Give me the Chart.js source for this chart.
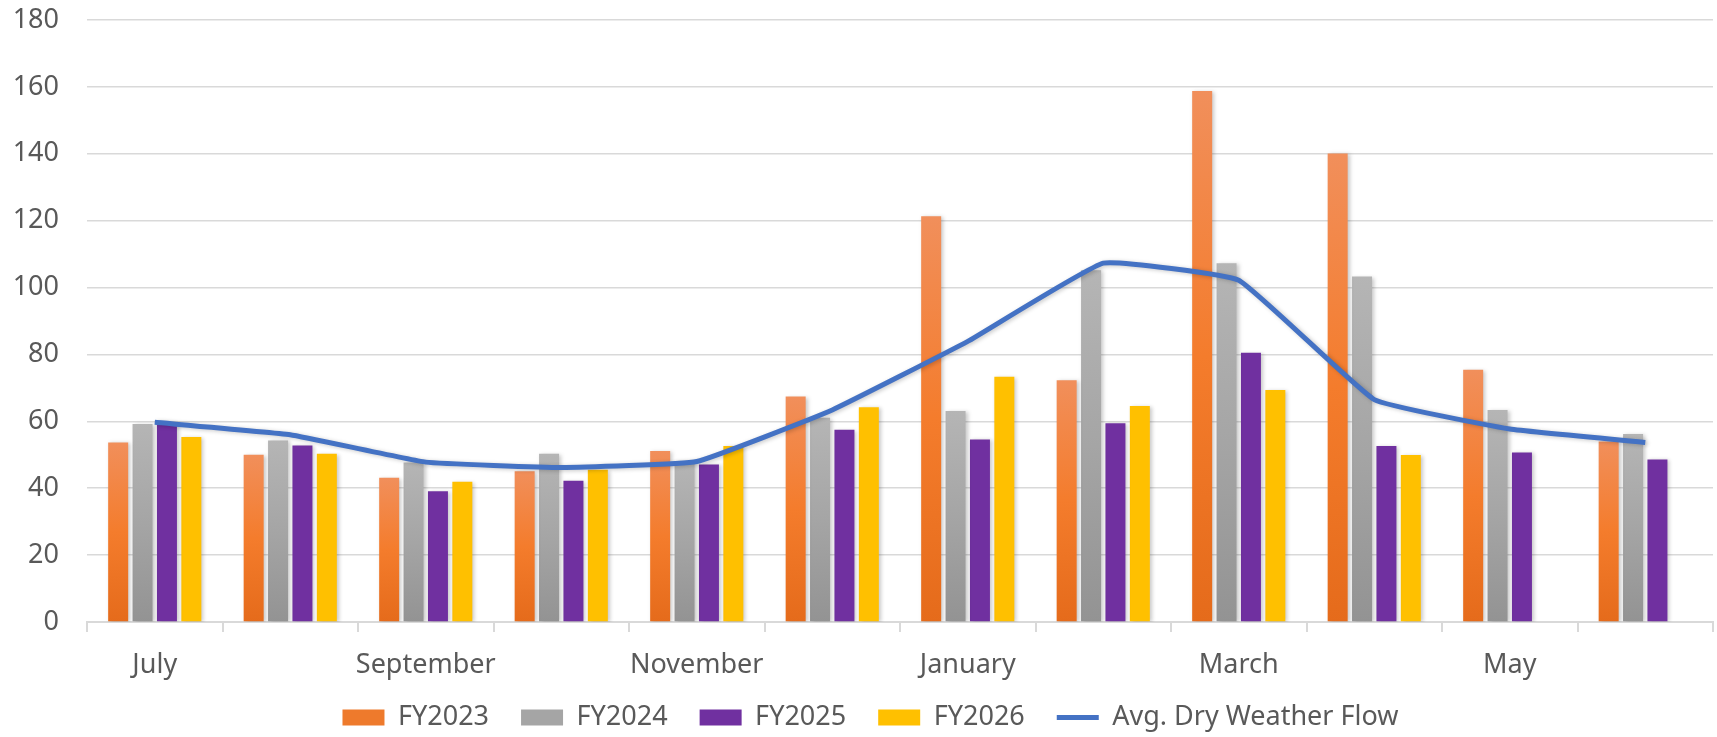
<!DOCTYPE html>
<html>
<head>
<meta charset="utf-8">
<title>Flow by month</title>
<script src="https://cdn.jsdelivr.net/npm/chart.js@4.4.1/dist/chart.umd.min.js"></script>
<style>
  html, body { margin: 0; padding: 0; background: #ffffff; }
  #wrap { width: 1717px; height: 737px; }
</style>
</head>
<body>
<div id="wrap"><canvas id="flowChart" width="1717" height="737"></canvas></div>
<script>
const months = ["July", "August", "September", "October", "November", "December",
                "January", "February", "March", "April", "May", "June"];
const fy2023 = [53.7, 50.0, 43.1, 45.1, 51.1, 67.4, 121.3, 72.3, 158.8, 140.1, 75.4, 54.0];
const fy2024 = [59.2, 54.3, 47.7, 50.3, 48.0, 61.1, 63.1, 105.2, 107.3, 103.3, 63.4, 56.2];
const fy2025 = [59.8, 52.8, 39.1, 42.2, 47.1, 57.5, 54.6, 59.4, 80.5, 52.6, 50.7, 48.6];
const fy2026 = [55.3, 50.3, 41.9, 45.5, 52.6, 64.2, 73.3, 64.6, 69.4, 49.9, null, null];
const avgDryWeather = [59.7, 56.0, 47.8, 46.2, 48.0, 63.4, 83.9, 107.3, 102.2, 66.5, 57.7, 53.7];
const yTicks = [0, 20, 40, 60, 80, 100, 120, 140, 160, 180];

const font = "'Noto Sans', 'Open Sans', sans-serif";
const textColor = "#595959";
const gridColor = "#d9d9d9";

// vertical gradient per bar, lighter at the top like the Excel fill
function barFill(stops, solid) {
  return function (c) {
    if (c.type !== "data" || c.raw == null) return solid;
    const chart = c.chart;
    if (!chart.chartArea) return solid;
    const y = chart.scales.y;
    const top = y.getPixelForValue(c.raw);
    const bottom = y.getPixelForValue(0);
    if (!isFinite(top) || !isFinite(bottom) || bottom - top < 1) return solid;
    const g = chart.ctx.createLinearGradient(0, top, 0, bottom);
    stops.forEach(s => g.addColorStop(s[0], s[1]));
    return g;
  };
}

const orangeFill = barFill([[0, "#f18f5b"], [0.5, "#f47c2c"], [1, "#e56b1b"]], "#ED7D31");
const grayFill = barFill([[0, "#b5b5b5"], [0.5, "#a5a5a5"], [1, "#939393"]], "#A5A5A5");

const legendColors = ["#EE7A2C", "#A5A5A5", "#7030A0", "#FFC000", "#4472C4"];

const shadowPlugin = {
  id: "barShadow",
  beforeDatasetDraw(chart) {
    const c = chart.ctx;
    c.save();
    c.shadowColor = "rgba(0,0,0,0.22)";
    c.shadowBlur = 4;
    c.shadowOffsetX = 2;
    c.shadowOffsetY = 1;
  },
  afterDatasetDraw(chart) {
    chart.ctx.restore();
  }
};

// legend keeps wide gaps between items but should not eat vertical room
const legendFit = {
  id: "legendFit",
  beforeInit(chart) {
    const lg = chart.legend;
    if (!lg) return;
    const fit = lg.fit;
    lg.fit = function () {
      fit.call(this);
      this.height = 45;
    };
    lg.draw = function () {
      if (!this.options.display) return;
      const c = this.ctx;
      c.save();
      c.translate(14, -20);
      this._draw();
      c.restore();
    };
  }
};

const cnv = document.getElementById("flowChart");
const ctx = cnv.getContext("2d");

const flowChart = new Chart(ctx, {
  type: "bar",
  data: {
    labels: months,
    datasets: [
      { label: "FY2023", data: fy2023, backgroundColor: orangeFill, order: 1, pointStyle: "rect" },
      { label: "FY2024", data: fy2024, backgroundColor: grayFill, order: 1, pointStyle: "rect" },
      { label: "FY2025", data: fy2025, backgroundColor: "#7030A0", order: 1, pointStyle: "rect" },
      { label: "FY2026", data: fy2026, backgroundColor: "#FFC000", order: 1, pointStyle: "rect" },
      {
        type: "line",
        label: "Avg. Dry Weather Flow",
        data: avgDryWeather,
        borderColor: "#4472C4",
        backgroundColor: "#4472C4",
        borderWidth: 5,
        pointRadius: 0,
        tension: 0.1,
        order: 0,
        pointStyle: "line"
      }
    ]
  },
  options: {
    responsive: false,
    animation: false,
    devicePixelRatio: 1,
    categoryPercentage: 0.72,
    barPercentage: 0.82,
    layout: { padding: { top: 0, right: 4, left: 0, bottom: 0 } },
    scales: {
      x: {
        grid: { offset: true, drawOnChartArea: false, color: gridColor, lineWidth: 2, tickLength: 10 },
        border: { display: true, color: gridColor, width: 2 },
        ticks: {
          autoSkip: false,
          maxRotation: 0,
          padding: 17,
          color: textColor,
          font: { family: font, size: 27 },
          callback: (v, i) => (i % 2 === 0 ? months[i] : "")
        },
        afterFit: (s) => { s.height = 70; }
      },
      y: {
        min: 0,
        max: 180,
        afterBuildTicks: (s) => { s.ticks = yTicks.map(v => ({ value: v })); },
        grid: { color: gridColor, lineWidth: 1.5, drawTicks: false },
        border: { display: false },
        ticks: { padding: 28, color: textColor, font: { family: font, size: 27 } },
        afterFit: (s) => { s.width = 87; s.paddingTop = 20; s.paddingBottom = 0; }
      }
    },
    plugins: {
      tooltip: { enabled: false },
      legend: {
        position: "bottom",
        labels: {
          usePointStyle: true,
          pointStyleWidth: 42,
          boxHeight: 16,
          padding: 32,
          color: textColor,
          font: { family: font, size: 27 },
          sort: (a, b) => a.datasetIndex - b.datasetIndex,
          generateLabels(chart) {
            const items = Chart.defaults.plugins.legend.labels.generateLabels(chart);
            return items.map(it => {
              const i = it.datasetIndex;
              it.fillStyle = legendColors[i];
              it.strokeStyle = legendColors[i];
              it.lineWidth = i === 4 ? 5 : 0;
              return it;
            });
          }
        }
      }
    }
  },
  plugins: [shadowPlugin, legendFit]
});
</script>
</body>
</html>
